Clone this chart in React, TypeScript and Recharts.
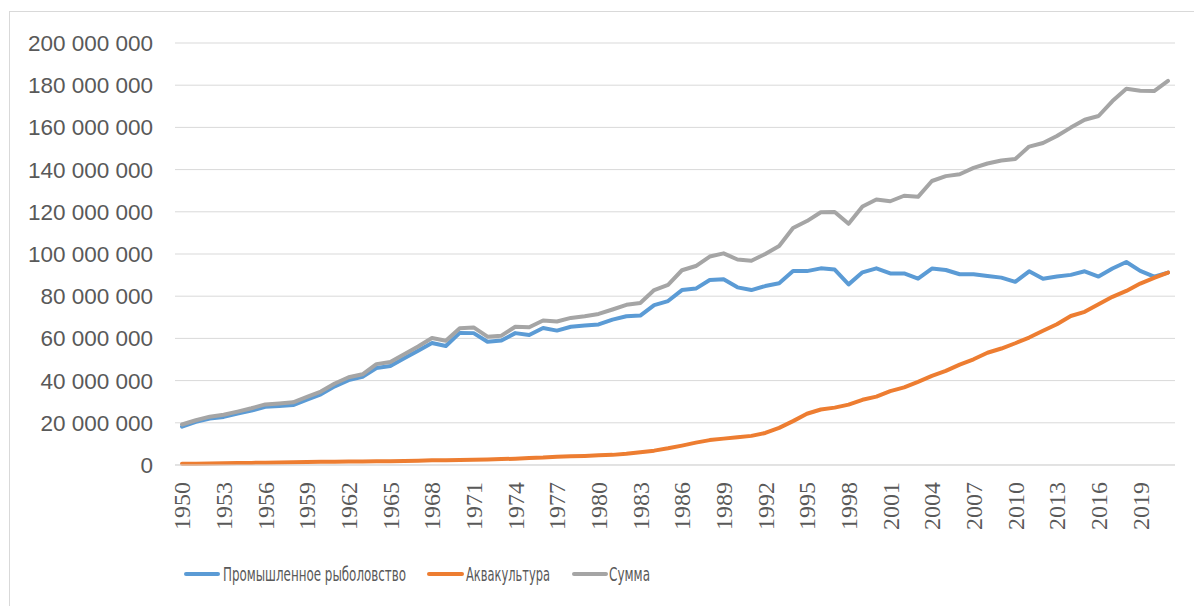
import React from 'react';
import { LineChart, Line, XAxis, YAxis, CartesianGrid } from 'recharts';

const years = [
  '1950', '1951', '1952', '1953', '1954', '1955', '1956', '1957', '1958', '1959',
  '1960', '1961', '1962', '1963', '1964', '1965', '1966', '1967', '1968', '1969',
  '1970', '1971', '1972', '1973', '1974', '1975', '1976', '1977', '1978', '1979',
  '1980', '1981', '1982', '1983', '1984', '1985', '1986', '1987', '1988', '1989',
  '1990', '1991', '1992', '1993', '1994', '1995', '1996', '1997', '1998', '1999',
  '2000', '2001', '2002', '2003', '2004', '2005', '2006', '2007', '2008', '2009',
  '2010', '2011', '2012', '2013', '2014', '2015', '2016', '2017', '2018', '2019',
  '2020', '2021',
];

// values in millions of tonnes
const capture = [
  18.2, 20.5, 22.0, 22.8, 24.4, 25.8, 27.6, 28.0, 28.4, 31.0,
  33.5, 37.3, 40.2, 41.8, 46.0, 46.9, 50.6, 54.2, 57.8, 56.4,
  62.6, 62.5, 58.4, 59.0, 62.5, 61.6, 64.9, 63.7, 65.5, 66.1,
  66.6, 68.9, 70.5, 70.8, 75.8, 77.7, 82.9, 83.6, 87.7, 88.0,
  84.2, 82.9, 84.8, 86.1, 91.9, 91.9, 93.2, 92.6, 85.6, 91.3,
  93.2, 90.8, 90.8, 88.3, 93.1, 92.4, 90.4, 90.4, 89.6, 88.8,
  86.8, 91.8, 88.3, 89.3, 90.1, 91.8, 89.3, 93.1, 96.2, 92.0,
  89.3, 91.2,
];

const aquaculture = [
  0.6, 0.6, 0.7, 0.8, 0.9, 1.0, 1.1, 1.2, 1.3, 1.4,
  1.5, 1.5, 1.6, 1.7, 1.8, 1.8, 1.9, 2.0, 2.2, 2.3,
  2.4, 2.5, 2.6, 2.8, 3.0, 3.3, 3.5, 3.9, 4.1, 4.3,
  4.6, 4.8, 5.3, 6.0, 6.8, 7.9, 9.2, 10.6, 11.8, 12.5,
  13.1, 13.8, 15.2, 17.6, 20.8, 24.3, 26.3, 27.2, 28.6, 30.9,
  32.4, 35.0, 36.8, 39.4, 42.2, 44.6, 47.6, 50.1, 53.2, 55.2,
  57.7, 60.4, 63.6, 66.7, 70.6, 72.6, 76.2, 79.7, 82.5, 86.0,
  88.7, 91.2,
];

const total = [
  19.2, 21.2, 22.9, 23.8, 25.3, 26.9, 28.7, 29.2, 29.7, 32.3,
  34.8, 38.6, 41.6, 43.0, 47.8, 48.8, 52.5, 56.2, 60.2, 58.9,
  64.8, 65.2, 60.8, 61.3, 65.5, 65.3, 68.5, 68.0, 69.7, 70.5,
  71.6, 73.7, 75.9, 76.8, 82.9, 85.4, 92.3, 94.3, 98.8, 100.3,
  97.4, 96.8, 100.0, 103.8, 112.3, 115.6, 119.8, 119.9, 114.3, 122.5,
  125.8, 125.0, 127.6, 127.1, 134.6, 136.9, 137.8, 140.8, 142.9, 144.3,
  145.0, 150.9, 152.6, 155.9, 159.9, 163.6, 165.4, 172.5, 178.3, 177.4,
  177.2, 182.0,
];

const yTicks = [0, 20000000, 40000000, 60000000, 80000000, 100000000, 120000000, 140000000, 160000000, 180000000, 200000000];

const seriesNames = ['Промышленное рыболовство', 'Аквакультура', 'Сумма'];
const seriesColors = ['#5B9BD5', '#ED7D31', '#A5A5A5'];

const data = years.map((y, i) => ({
  year: y,
  capture: capture[i] * 1e6,
  aquaculture: aquaculture[i] * 1e6,
  total: total[i] * 1e6,
}));

const fmt = (v: number) => String(Math.round(v)).replace(/\B(?=(\d{3})+(?!\d))/g, ' ');

const XTick = (props: any) => {
  const { x, y, payload } = props;
  return (
    <g transform={`translate(${x},${y})`}>
      <text
        transform="rotate(-90)"
        x={0}
        y={0}
        dy="0.35em"
        textAnchor="end"
        fill="#595959"
        fontFamily="'Liberation Serif', 'DejaVu Serif', serif"
        fontSize={24}
      >
        {payload.value}
      </text>
    </g>
  );
};

const legendItems = [
  { x1: 186, x2: 218, tx: 223, tw: 183 },
  { x1: 429, x2: 462, tx: 466, tw: 84 },
  { x1: 574, x2: 606, tx: 609, tw: 41 },
];

export default function App() {
  return (
    <div style={{ position: 'absolute', left: 0, top: 0, width: 1194, height: 606, background: '#fff', overflow: 'hidden' }}>
      <div
        style={{
          position: 'absolute',
          left: 9,
          top: 11,
          right: 0,
          bottom: 0,
          borderLeft: '1px solid #D9D9D9',
          borderTop: '1px solid #D9D9D9',
        }}
      />
      <div style={{ position: 'absolute', left: 0, top: 0 }}>
        <LineChart width={1194} height={606} data={data} margin={{ top: 43, right: 19, bottom: 0, left: 0 }}>
          <CartesianGrid vertical={false} stroke="#D9D9D9" strokeWidth={1} />
          <XAxis
            dataKey="year"
            height={141}
            interval={2}
            padding={{ left: 7, right: 7 }}
            tickLine={false}
            tickSize={0}
            tickMargin={17}
            axisLine={{ stroke: '#D9D9D9' }}
            tick={<XTick />}
          />
          <YAxis
            width={175}
            domain={[0, 200000000]}
            ticks={yTicks}
            interval={0}
            tickFormatter={fmt}
            axisLine={false}
            tickLine={false}
            tickSize={0}
            tickMargin={22}
            tick={{ fill: '#595959', fontSize: 22.5, fontFamily: "'Liberation Sans', Arial, sans-serif" }}
          />
          <Line
            type="linear"
            dataKey="capture"
            name={seriesNames[0]}
            stroke={seriesColors[0]}
            strokeWidth={4}
            dot={false}
            strokeLinejoin="round"
            strokeLinecap="round"
            isAnimationActive={false}
          />
          <Line
            type="linear"
            dataKey="aquaculture"
            name={seriesNames[1]}
            stroke={seriesColors[1]}
            strokeWidth={4}
            dot={false}
            strokeLinejoin="round"
            strokeLinecap="round"
            isAnimationActive={false}
          />
          <Line
            type="linear"
            dataKey="total"
            name={seriesNames[2]}
            stroke={seriesColors[2]}
            strokeWidth={4}
            dot={false}
            strokeLinejoin="round"
            strokeLinecap="round"
            isAnimationActive={false}
          />
        </LineChart>
      </div>
      <svg width={1194} height={606} style={{ position: 'absolute', left: 0, top: 0, pointerEvents: 'none' }}>
        {legendItems.map((it, i) => (
          <g key={i}>
            <line x1={it.x1} y1={574} x2={it.x2} y2={574} stroke={seriesColors[i]} strokeWidth={4} strokeLinecap="round" />
            <text
              transform={`translate(${it.tx},581) scale(1,1.3)`}
              x={0}
              y={0}
              fill="#595959"
              fontSize={15.5}
              fontFamily="'Liberation Sans Narrow', 'DejaVu Sans Condensed', 'Liberation Sans', sans-serif"
              textLength={it.tw}
              lengthAdjust="spacingAndGlyphs"
            >
              {seriesNames[i]}
            </text>
          </g>
        ))}
      </svg>
    </div>
  );
}
